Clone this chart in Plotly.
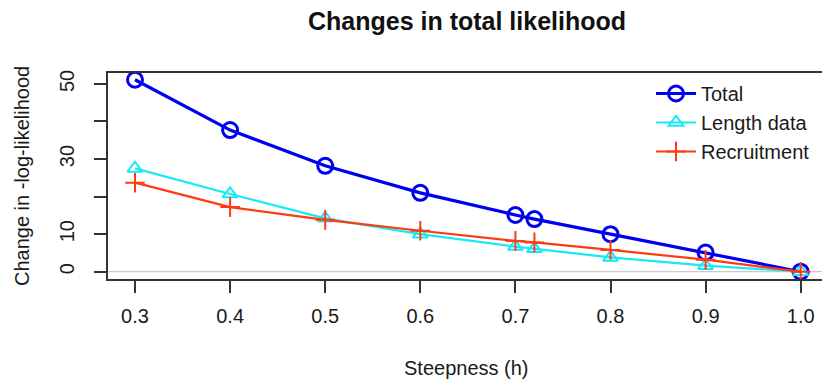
import plotly.graph_objects as go

# Steepness values evaluated in the likelihood profile
steepness = [0.3, 0.4, 0.5, 0.6, 0.7, 0.72, 0.8, 0.9, 1.0]

# Change in negative log-likelihood relative to h = 1.0
total = [51.1, 37.7, 28.2, 21.0, 15.1, 14.0, 10.0, 5.1, 0.0]
length_data = [27.5, 20.7, 14.2, 10.0, 6.7, 6.1, 3.8, 1.6, 0.0]
recruitment = [23.7, 17.2, 13.8, 10.9, 8.2, 7.8, 5.8, 3.2, 0.0]

x_ticks = [0.3, 0.4, 0.5, 0.6, 0.7, 0.8, 0.9, 1.0]
x_tick_text = ["0.3", "0.4", "0.5", "0.6", "0.7", "0.8", "0.9", "1.0"]
y_ticks = [0, 10, 20, 30, 40, 50]
y_tick_text = ["0", "10", "", "30", "", "50"]

FONT = "Liberation Sans, Arial, sans-serif"
AXIS_COLOR = "#333333"

W, H = 822, 381
L, R, T, B = 108, 0, 73, 102
PW, PH = W - L - R, H - T - B

fig = go.Figure()

fig.add_trace(go.Scatter(
    x=steepness, y=total, name="Total", mode="lines+markers",
    line=dict(color="#0000F0", width=3.2),
    marker=dict(symbol="circle-open", size=15, color="#0000F0",
                line=dict(width=3, color="#0000F0")),
))
fig.add_trace(go.Scatter(
    x=steepness, y=length_data, name="Length data", mode="lines+markers",
    line=dict(color="#19E8F5", width=2.2),
    marker=dict(symbol="triangle-up-open", size=13, color="#19E8F5",
                line=dict(width=2, color="#19E8F5")),
))
fig.add_trace(go.Scatter(
    x=steepness, y=recruitment, name="Recruitment", mode="lines+markers",
    line=dict(color="#FF3A10", width=2.2),
    marker=dict(symbol="cross-thin-open", size=14, color="#FF3A10",
                line=dict(width=2, color="#FF3A10")),
))

# light reference line at zero
fig.add_shape(type="line", xref="paper", yref="y", x0=0, x1=1, y0=0, y1=0,
              line=dict(color="#BDBDBD", width=1), layer="below")

fig.update_layout(
    width=W, height=H,
    margin=dict(l=L, r=R, t=T, b=B, pad=0),
    paper_bgcolor="white", plot_bgcolor="white",
    font=dict(family=FONT, size=20, color="#1a1a1a"),
    title=dict(text="<b>Changes in total likelihood</b>", x=467 / W, xref="container",
               xanchor="center", y=1 - 21 / H, yref="container", yanchor="middle",
               font=dict(size=25, color="#111111")),
    showlegend=True,
    legend=dict(x=(651 - L) / PW, y=(H - B - 74) / PH, xanchor="left", yanchor="top",
                bgcolor="rgba(0,0,0,0)", borderwidth=0, itemwidth=40,
                font=dict(size=20, color="#1a1a1a"), tracegroupgap=0),
    xaxis=dict(range=[0.2716, 0.2716 + PW / 951.0],
               tickvals=x_ticks, ticktext=x_tick_text,
               showgrid=False, zeroline=False,
               showline=True, mirror=True, linecolor=AXIS_COLOR, linewidth=1.5,
               ticks="outside", ticklen=12, tickwidth=1.5, tickcolor=AXIS_COLOR,
               tickfont=dict(size=20), ticklabelstandoff=6),
    yaxis=dict(range=[-1.94, 52.9],
               tickvals=y_ticks, ticktext=y_tick_text, tickangle=-90,
               showgrid=False, zeroline=False,
               showline=True, mirror=False, linecolor=AXIS_COLOR, linewidth=1.5,
               ticks="outside", ticklen=12, tickwidth=1.5, tickcolor=AXIS_COLOR,
               tickfont=dict(size=20), ticklabelstandoff=12),
    annotations=[
        dict(text="Steepness (h)", xref="paper", yref="paper",
             x=(466 - L) / PW, y=-(368 - (H - B)) / PH,
             xanchor="center", yanchor="middle", showarrow=False,
             font=dict(size=20)),
        dict(text="Change in -log-likelihood", xref="paper", yref="paper",
             x=-(L - 22) / PW, y=0.5, textangle=-90,
             xanchor="center", yanchor="middle", showarrow=False,
             font=dict(size=20)),
    ],
)

fig.write_html("out.html")
